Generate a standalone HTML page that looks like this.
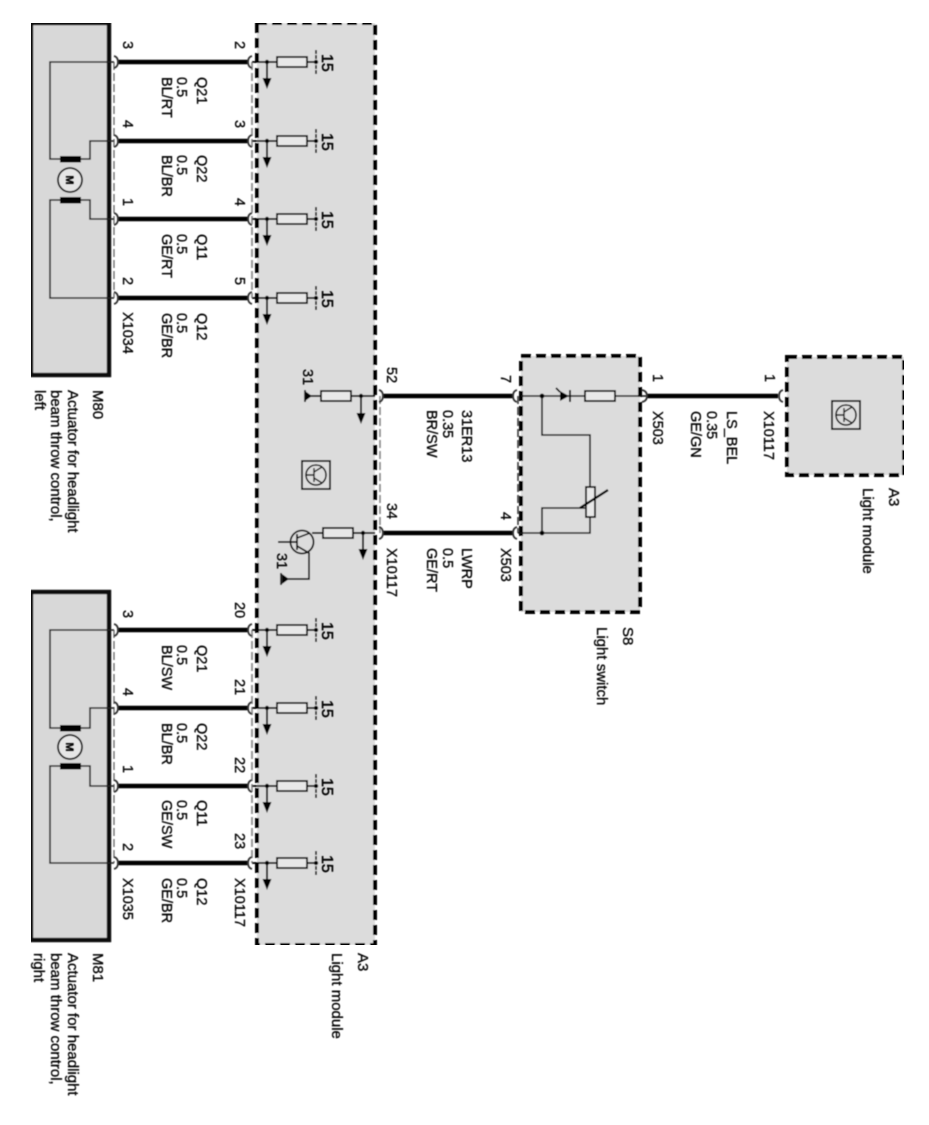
<!DOCTYPE html>
<html>
<head>
<meta charset="utf-8">
<style>
html,body{margin:0;padding:0;background:#fff;width:929px;height:1125px;overflow:hidden}
svg{display:block}
text{font-family:"Liberation Sans",sans-serif;font-size:14.5px;fill:#000;stroke:#000;stroke-width:.3px}
text.c{font-size:15px}
text.n{font-size:16px;stroke-width:.5px}
text.m{font-size:11px;font-weight:bold}
</style>
</head>
<body>
<svg xmlns="http://www.w3.org/2000/svg" width="929" height="1125" viewBox="0 0 929 1125">
<defs>
<filter id="b" x="0" y="0" width="100%" height="100%"><feGaussianBlur stdDeviation="0.45"/></filter>
<g id="row">
  <path d="M252 0H277M307 0H316M267 0V18" stroke="#000" stroke-width="1.8" fill="none"/>
  <rect x="277" y="-5" width="30" height="10" fill="#e8e8e8" stroke="#111" stroke-width="1.8"/>
  <path d="M316 -12V13" stroke="#222" stroke-width="1.8" stroke-dasharray="4 1" fill="none"/>
  <circle cx="267" cy="0" r="2.200" fill="#000"/>
  <circle cx="316" cy="0" r="2.200" fill="#000"/>
  <polygon points="262.500,16 271.500,16 267,27" fill="#000"/>
</g>
<g id="wire">
  <path d="M117 0H248" stroke="#000" stroke-width="4.6" fill="none"/>
  <path d="M114 -6Q118 -5 118 0Q118 5 114 6" stroke="#333" stroke-width="1.8" fill="none"/>
  <path d="M252 -6Q248 -5 248 0Q248 5 252 6" stroke="#333" stroke-width="1.8" fill="none"/>
</g>
<g id="tr">
  <rect x="-14" y="-14" width="28" height="28" fill="#dedede" stroke="#111" stroke-width="1.8"/>
  <circle cx="0" cy="0" r="10" fill="none" stroke="#111" stroke-width="1.6"/>
  <path d="M-10 0H-2M-2 -7V7M-2 -3L6 -8M-2 3L6 8" stroke="#111" stroke-width="1.4" fill="none"/>
</g>
</defs>

<g filter="url(#b)">
<!-- boxes -->
<rect x="31" y="23" width="78" height="352" fill="#d8d8d8" stroke="#111" stroke-width="4.4"/>
<rect x="31" y="592" width="78" height="348" fill="#d8d8d8" stroke="#111" stroke-width="4.4"/>
<rect x="257" y="23" width="118" height="922" fill="#dcdcdc" stroke="#000" stroke-width="4" stroke-dasharray="10 5"/>
<rect x="521" y="356" width="119" height="256" fill="#dcdcdc" stroke="#000" stroke-width="4" stroke-dasharray="10 5"/>
<rect x="787" y="357" width="117" height="118" fill="#dcdcdc" stroke="#000" stroke-width="4" stroke-dasharray="10 5"/>

<!-- thin dashed harness lines -->
<path d="M114 62V298M114 630V863" stroke="#666" stroke-width="1.3" stroke-dasharray="8 3" fill="none"/>
<path d="M252 62V298M252 630V863" stroke="#999" stroke-width="2" stroke-dasharray="8 3" fill="none"/>
<path d="M380 396V533" stroke="#888" stroke-width="1.6" stroke-dasharray="8 3" fill="none"/>
<path d="M518 396V533" stroke="#333" stroke-width="1.5" stroke-dasharray="8 3" fill="none"/>

<!-- actuators -->
<path d="M114 62H50V159H60M80 159H90V141H114M114 219H90V200H80M60 200H50V298H114" stroke="#222" stroke-width="1.6" fill="none"/>
<rect x="60" y="156" width="21" height="6.500" fill="#000"/>
<rect x="60" y="197" width="21" height="6.500" fill="#000"/>
<circle cx="70" cy="180" r="12" fill="#e6e6e6" stroke="#111" stroke-width="1.8"/>
<path d="M114 630H50V728H60M80 728H90V708H114M114 786H90V766H80M60 766H50V863H114" stroke="#222" stroke-width="1.6" fill="none"/>
<rect x="60" y="725" width="21" height="6.500" fill="#000"/>
<rect x="60" y="763" width="21" height="6.500" fill="#000"/>
<circle cx="70" cy="747" r="12" fill="#e6e6e6" stroke="#111" stroke-width="1.8"/>

<!-- wires -->
<use href="#wire" y="62"/><use href="#wire" y="141"/><use href="#wire" y="219"/><use href="#wire" y="298"/>
<use href="#wire" y="630"/><use href="#wire" y="708"/><use href="#wire" y="786"/><use href="#wire" y="863"/>
<use href="#row" y="62"/><use href="#row" y="141"/><use href="#row" y="219"/><use href="#row" y="298"/>
<use href="#row" y="630"/><use href="#row" y="708"/><use href="#row" y="786"/><use href="#row" y="863"/>

<!-- middle wires -->
<path d="M383 396H513M383 533H513M647 396H778" stroke="#000" stroke-width="4.6" fill="none"/>
<path d="M379 390Q383 391 383 396Q383 401 379 402M379 527Q383 528 383 533Q383 538 379 539M517 390Q513 391 513 396Q513 401 517 402M517 527Q513 528 513 533Q513 538 517 539M642 390Q647 391 647 396Q647 401 642 402M783 390Q779 391 779 396Q779 401 783 402" stroke="#333" stroke-width="1.8" fill="none"/>

<!-- A3 inner 52 / 34 -->
<path d="M375 396H351M321 396H306M361 396V414M375 533H353M323 533H312M363 533V550" stroke="#000" stroke-width="1.8" fill="none"/>
<rect x="321" y="391" width="30" height="10" fill="#e8e8e8" stroke="#111" stroke-width="1.8"/>
<rect x="323" y="528" width="30" height="10" fill="#e8e8e8" stroke="#111" stroke-width="1.8"/>
<circle cx="361" cy="396" r="2.200" fill="#000"/>
<circle cx="363" cy="533" r="2.200" fill="#000"/>
<polygon points="356.500,413 365.500,413 361,424" fill="#000"/>
<polygon points="358.500,549 367.500,549 363,560" fill="#000"/>
<polygon points="305,391 305,401 312,396" fill="#000"/>
<path d="M305 390V402" stroke="#111" stroke-width="1.8"/>

<!-- transistor 34 -->
<circle cx="302" cy="542" r="11.500" fill="none" stroke="#111" stroke-width="1.8"/>
<path d="M278 542H297M297 534V550M297 538L310 533M297 546L309 553V579H282" stroke="#111" stroke-width="1.7" fill="none"/>
<polygon points="282,574 282,584 289,579" fill="#000"/>
<path d="M281 573V585" stroke="#111" stroke-width="1.8"/>

<use href="#tr" transform="translate(316,475)"/>
<use href="#tr" transform="translate(846,415)"/>

<!-- S8 internals -->
<path d="M521 396H585M615 396H646M542 396V435H590V487M590 517V533H518M542 533V508H585" stroke="#111" stroke-width="1.6" fill="none"/>
<rect x="585" y="391" width="30" height="10" fill="#e8e8e8" stroke="#111" stroke-width="1.8"/>
<rect x="586" y="487" width="9" height="30" fill="#e8e8e8" stroke="#111" stroke-width="1.8"/>
<path d="M580 508L608 490" stroke="#000" stroke-width="2.400"/>
<circle cx="542" cy="396" r="2.400" fill="#000"/>
<circle cx="542" cy="533" r="2.400" fill="#000"/>
<polygon points="560,391 560,401 569,396" fill="#000"/>
<path d="M570 390V402M556 388L560 392" stroke="#000" stroke-width="1.8" fill="none"/>
</g>

<g filter="url(#b)">
<text class="m" transform="translate(66,180) rotate(90)" text-anchor="middle">M</text>
<text class="m" transform="translate(66,747) rotate(90)" text-anchor="middle">M</text>

<!-- pin labels left M80 -->
<text transform="translate(123,41) rotate(90)">3</text>
<text transform="translate(123,120) rotate(90)">4</text>
<text transform="translate(123,198) rotate(90)">1</text>
<text transform="translate(123,277) rotate(90)">2</text>
<text transform="translate(123,312) rotate(90)">X1034</text>
<text transform="translate(235,41) rotate(90)">2</text>
<text transform="translate(235,120) rotate(90)">3</text>
<text transform="translate(235,198) rotate(90)">4</text>
<text transform="translate(235,277) rotate(90)">5</text>

<text transform="translate(197,77) rotate(90)">Q21</text>
<text transform="translate(177,77) rotate(90)">0.5</text>
<text transform="translate(162,77) rotate(90)">BL/RT</text>
<text transform="translate(197,155) rotate(90)">Q22</text>
<text transform="translate(177,155) rotate(90)">0.5</text>
<text transform="translate(162,155) rotate(90)">BL/BR</text>
<text transform="translate(197,234) rotate(90)">Q11</text>
<text transform="translate(177,234) rotate(90)">0.5</text>
<text transform="translate(162,234) rotate(90)">GE/RT</text>
<text transform="translate(197,313) rotate(90)">Q12</text>
<text transform="translate(177,313) rotate(90)">0.5</text>
<text transform="translate(162,313) rotate(90)">GE/BR</text>

<!-- 15 labels -->
<text class="n" transform="translate(322,54) rotate(90)">15</text>
<text class="n" transform="translate(322,133) rotate(90)">15</text>
<text class="n" transform="translate(322,211) rotate(90)">15</text>
<text class="n" transform="translate(322,290) rotate(90)">15</text>
<text class="n" transform="translate(322,622) rotate(90)">15</text>
<text class="n" transform="translate(322,700) rotate(90)">15</text>
<text class="n" transform="translate(322,778) rotate(90)">15</text>
<text class="n" transform="translate(322,855) rotate(90)">15</text>

<!-- M80 caption -->
<text class="c" transform="translate(93,390) rotate(90)">M80</text>
<text class="c" transform="translate(68,390) rotate(90)">Actuator for headlight</text>
<text class="c" transform="translate(51,390) rotate(90)">beam throw control,</text>
<text class="c" transform="translate(35,390) rotate(90)">left</text>

<!-- M81 -->
<text transform="translate(123,610) rotate(90)">3</text>
<text transform="translate(123,688) rotate(90)">4</text>
<text transform="translate(123,765) rotate(90)">1</text>
<text transform="translate(123,843) rotate(90)">2</text>
<text transform="translate(123,878) rotate(90)">X1035</text>
<text transform="translate(235,602) rotate(90)">20</text>
<text transform="translate(235,679) rotate(90)">21</text>
<text transform="translate(235,757) rotate(90)">22</text>
<text transform="translate(235,833) rotate(90)">23</text>
<text transform="translate(235,878) rotate(90)">X10117</text>

<text transform="translate(197,645) rotate(90)">Q21</text>
<text transform="translate(177,645) rotate(90)">0.5</text>
<text transform="translate(162,645) rotate(90)">BL/SW</text>
<text transform="translate(197,723) rotate(90)">Q22</text>
<text transform="translate(177,723) rotate(90)">0.5</text>
<text transform="translate(162,723) rotate(90)">BL/BR</text>
<text transform="translate(197,800) rotate(90)">Q11</text>
<text transform="translate(177,800) rotate(90)">0.5</text>
<text transform="translate(162,800) rotate(90)">GE/SW</text>
<text transform="translate(197,878) rotate(90)">Q12</text>
<text transform="translate(177,878) rotate(90)">0.5</text>
<text transform="translate(162,878) rotate(90)">GE/BR</text>

<text class="c" transform="translate(93,953) rotate(90)">M81</text>
<text class="c" transform="translate(68,953) rotate(90)">Actuator for headlight</text>
<text class="c" transform="translate(51,953) rotate(90)">beam throw control,</text>
<text class="c" transform="translate(34,953) rotate(90)">right</text>

<text class="c" transform="translate(358,953) rotate(90)">A3</text>
<text class="c" transform="translate(332,953) rotate(90)">Light module</text>

<!-- middle -->
<text transform="translate(303,369) rotate(90)">31</text>
<text transform="translate(277,553) rotate(90)">31</text>
<text transform="translate(387,367) rotate(90)">52</text>
<text transform="translate(387,503) rotate(90)">34</text>
<text transform="translate(387,548) rotate(90)">X10117</text>
<text transform="translate(501,375) rotate(90)">7</text>
<text transform="translate(501,512) rotate(90)">4</text>
<text transform="translate(501,548) rotate(90)">X503</text>
<text transform="translate(462,410) rotate(90)">31ER13</text>
<text transform="translate(443,410) rotate(90)">0.35</text>
<text transform="translate(427,410) rotate(90)">BR/SW</text>
<text transform="translate(462,548) rotate(90)">LWRP</text>
<text transform="translate(443,548) rotate(90)">0.5</text>
<text transform="translate(427,548) rotate(90)">GE/RT</text>

<text class="c" transform="translate(623,627) rotate(90)">S8</text>
<text class="c" transform="translate(597,627) rotate(90)">Light switch</text>

<!-- right -->
<text transform="translate(653,374) rotate(90)">1</text>
<text transform="translate(765,374) rotate(90)">1</text>
<text transform="translate(653,411) rotate(90)">X503</text>
<text transform="translate(727,411) rotate(90)">LS_BEL</text>
<text transform="translate(707,411) rotate(90)">0.35</text>
<text transform="translate(691,411) rotate(90)">GE/GN</text>
<text transform="translate(764,411) rotate(90)">X10117</text>
<text class="c" transform="translate(889,488) rotate(90)">A3</text>
<text class="c" transform="translate(863,488) rotate(90)">Light module</text>
</g>
</svg>
</body>
</html>
